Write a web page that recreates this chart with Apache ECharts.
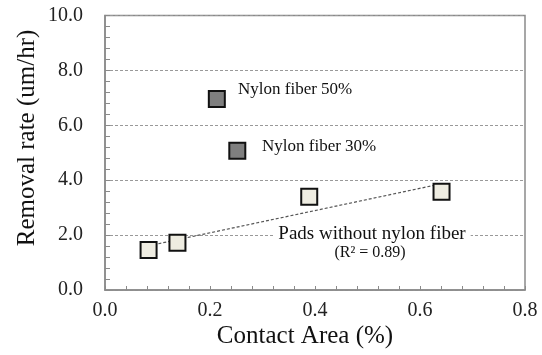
<!DOCTYPE html>
<html>
<head>
<meta charset="utf-8">
<script src="https://cdn.jsdelivr.net/npm/echarts@6/dist/echarts.min.js"></script>
<style>
html,body{margin:0;padding:0;background:#fff;}
#c{width:542px;height:355px;}
</style>
</head>
<body>
<div id="c"></div>
<script>
// Data
var padsX = [0.083, 0.138, 0.389, 0.641];
var padsY = [1.46, 1.72, 3.40, 3.58];
var nylon50 = [[0.213, 6.96]];
var nylon30 = [[0.252, 5.07]];
var trendX = [0.083, 0.641];
var trendY = [1.61, 3.87];
var xTicks = [0, 0.2, 0.4, 0.6, 0.8];
var yTicks = [0, 2, 4, 6, 8, 10];

var serif = "'Liberation Serif','Times New Roman',serif";
var chart = echarts.init(document.getElementById('c'), null, {renderer: 'canvas'});

var padsData = padsX.map(function (x, i) { return [x, padsY[i]]; });
var trendData = trendX.map(function (x, i) { return [x, trendY[i]]; });

chart.setOption({
  animation: false,
  backgroundColor: '#fff',
  grid: {left: 105, right: 17, top: 15.5, bottom: 65, show: true, borderColor: '#8a8a8a', borderWidth: 1.5, backgroundColor: 'transparent'},
  xAxis: {
    type: 'value', min: xTicks[0], max: xTicks[xTicks.length - 1], interval: 0.2,
    axisLine: {show: true, lineStyle: {color: '#8a8a8a', width: 1.5}},
    axisTick: {show: true, inside: true, length: 4, lineStyle: {color: '#8a8a8a'}},
    minorTick: {show: true, splitNumber: 5, length: 4, lineStyle: {color: '#8a8a8a'}},
    splitLine: {show: false},
    axisLabel: {fontFamily: serif, fontSize: 20, color: '#222', margin: 11,
      formatter: function (v) { return v.toFixed(1); }}
  },
  yAxis: {
    type: 'value', min: yTicks[0], max: yTicks[yTicks.length - 1], interval: 2,
    axisLine: {show: true, lineStyle: {color: '#8a8a8a', width: 1.5}},
    axisTick: {show: true, inside: true, length: 5, lineStyle: {color: '#8a8a8a'}},
    minorTick: {show: true, splitNumber: 5, length: 5, lineStyle: {color: '#8a8a8a'}},
    splitLine: {show: true, lineStyle: {color: '#999', width: 1, type: [3, 2]}},
    axisLabel: {fontFamily: serif, fontSize: 20, color: '#222', margin: 22,
      formatter: function (v) { return v.toFixed(1); }}
  },
  graphic: [
    {type: 'text', x: 305, y: 336, z: 10, style: {text: 'Contact Area (%)', font: '25px ' + serif, fill: '#111', textAlign: 'center', textVerticalAlign: 'middle'}},
    {type: 'text', x: 27, y: 138, rotation: Math.PI / 2, z: 10, style: {text: 'Removal rate (um/hr)', font: '25px ' + serif, fill: '#111', textAlign: 'center', textVerticalAlign: 'middle'}},
    {type: 'text', x: 238, y: 90, z: 10, style: {text: 'Nylon fiber 50%', font: '17px ' + serif, fill: '#111', textAlign: 'left', textVerticalAlign: 'middle'}},
    {type: 'text', x: 262, y: 147, z: 10, style: {text: 'Nylon fiber 30%', font: '17px ' + serif, fill: '#111', textAlign: 'left', textVerticalAlign: 'middle'}},
    {type: 'text', x: 372, y: 234, z: 10, style: {text: 'Pads without nylon fiber', font: '19px ' + serif, fill: '#111', textAlign: 'center', textVerticalAlign: 'middle', backgroundColor: '#fff', padding: [0, 5]}},
    {type: 'text', x: 370, y: 253, z: 10, style: {text: '(R² = 0.89)', font: '16px ' + serif, fill: '#111', textAlign: 'center', textVerticalAlign: 'middle'}}
  ],
  series: [
    {type: 'line', data: trendData, symbol: 'none', z: 1,
      lineStyle: {color: '#555', width: 1.2, type: [3, 2]}},
    {type: 'scatter', data: padsData, symbol: 'rect', symbolSize: 16, z: 3,
      itemStyle: {color: '#EEECE1', borderColor: '#111', borderWidth: 2, opacity: 1}},
    {type: 'scatter', data: nylon50, symbol: 'rect', symbolSize: 16, z: 3,
      itemStyle: {color: '#7F7F7F', borderColor: '#111', borderWidth: 2, opacity: 1}},
    {type: 'scatter', data: nylon30, symbol: 'rect', symbolSize: 16, z: 3,
      itemStyle: {color: '#7F7F7F', borderColor: '#111', borderWidth: 2, opacity: 1}}
  ]
});
</script>
</body>
</html>
